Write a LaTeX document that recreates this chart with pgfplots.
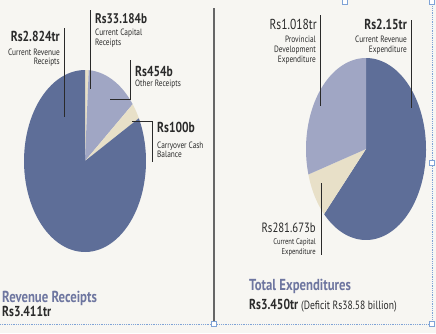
\documentclass[border=0pt]{standalone}
\usepackage{fontspec}
\setmainfont{PT Sans}[FakeStretch=0.8]
\usepackage{pgfplots}
\pgfplotsset{compat=1.18}
\definecolor{bg}{HTML}{F7F6F2}
\definecolor{darkb}{HTML}{5E6E98}
\definecolor{lightb}{HTML}{A0A6C4}
\definecolor{cream}{HTML}{E8E0C8}
\definecolor{ttl}{HTML}{6E76A0}
\definecolor{txt}{HTML}{2A2A2A}
\definecolor{sel}{HTML}{7FA3D6}
\newcommand\wedgeplot[3]{\addplot[fill=#3, draw=none, domain=#2:#1, samples=90, variable=\t] ({cos(t)},{sin(t)}) -- (axis cs:0,0) -- cycle;}
\newcommand\fsz[1]{\fontsize{#1}{#1}\selectfont}
\begin{document}
\begin{tikzpicture}[x=1bp,y=-1bp]
% data (billions of rupees)
\def\LA{2824}\def\LB{33.184}\def\LC{454}\def\LD{100}
\def\RA{2150}\def\RB{281.673}\def\RC{1018}
\pgfmathsetmacro\tL{\LA+\LB+\LC+\LD}
\pgfmathsetmacro\aA{90}
\pgfmathsetmacro\aB{\aA-\LB/\tL*360}
\pgfmathsetmacro\aC{\aB-\LC/\tL*360}
\pgfmathsetmacro\aD{\aC-\LD/\tL*360}
\pgfmathsetmacro\aE{\aD-\LA/\tL*360}
\pgfmathsetmacro\tR{\RA+\RB+\RC}
\pgfmathsetmacro\bA{90}
\pgfmathsetmacro\bB{\bA-\RA/\tR*360}
\pgfmathsetmacro\bC{\bB-\RB/\tR*360}
\pgfmathsetmacro\bD{\bC-\RC/\tR*360}
\fill[bg] (0,0) rectangle (436,333);
% left pie
\begin{axis}[at={(85bp,-161bp)}, anchor=center, width=122bp, height=182bp, scale only axis, hide axis, xmin=-1, xmax=1, ymin=-1, ymax=1, clip=false]
\wedgeplot{\aA}{\aB}{cream}
\wedgeplot{\aB}{\aC}{lightb}
\wedgeplot{\aC}{\aD}{cream}
\wedgeplot{\aD}{\aE}{darkb}
\end{axis}
% right pie
\begin{axis}[at={(366bp,-149bp)}, anchor=center, width=120bp, height=182bp, scale only axis, hide axis, xmin=-1, xmax=1, ymin=-1, ymax=1, clip=false]
\wedgeplot{\bA}{\bB}{darkb}
\wedgeplot{\bB}{\bC}{cream}
\wedgeplot{\bC}{\bD}{lightb}
\end{axis}
% divider
\draw[line width=1.4bp, gray!80!black] (214,8) -- (214,322);
% leader lines
\begin{scope}[line width=0.9bp, txt]
\draw (64,28) -- (64,117);
\draw (90,10) -- (90,89);
\draw (110,99) -- (130,99) -- (130,60);
\draw (132,121) -- (152,121) -- (152,162);
\draw (320,15) -- (320,106);
\draw (411,20) -- (411,108);
\draw (321,183) -- (321,255);
\end{scope}
% selection frame
\draw[sel, densely dotted, line width=0.8bp] (0,324) -- (432,324) -- (432,0);
\foreach \p in {(214,324),(432,163),(432,324),(432,2),(345,2)}
  \draw[sel, fill=white, line width=0.6bp] \p ++(-2.5,-2.5) rectangle ++(5,5);
\begin{scope}[every node/.style={inner sep=0pt, text=txt}]
% left labels
\node[anchor=base east, font=\bfseries\fsz{14.5}] at (60,41) {Rs2.824tr};
\node[anchor=base east, font=\fsz{9.2}] at (60,55) {Current Revenue};
\node[anchor=base east, font=\fsz{9.2}] at (60,64) {Receipts};
\node[anchor=base west, font=\bfseries\fsz{14}] at (95,23) {Rs33.184b};
\node[anchor=base west, font=\fsz{9.2}] at (95,35) {Current Capital};
\node[anchor=base west, font=\fsz{9.2}] at (95,45) {Receipts};
\node[anchor=base west, font=\bfseries\fsz{14.5}] at (135,76) {Rs454b};
\node[anchor=base west, font=\fsz{9.2}] at (135,86) {Other Receipts};
\node[anchor=base west, font=\bfseries\fsz{14.5}] at (157,132) {Rs100b};
\node[anchor=base west, font=\fsz{9.2}] at (157,148) {Carryover Cash};
\node[anchor=base west, font=\fsz{9.2}] at (157,157) {Balance};
\node[anchor=base west, font=\bfseries\fsz{16}, text=ttl] at (2,302) {Revenue Receipts};
\node[anchor=base west, font=\bfseries\fsz{14.5}] at (2,316) {Rs3.411tr};
% right labels
\node[anchor=base east, font=\fsz{14.5}] at (317,29) {Rs1.018tr};
\node[anchor=base east, font=\fsz{9.2}] at (316,42) {Provincial};
\node[anchor=base east, font=\fsz{9.2}] at (316,52) {Development};
\node[anchor=base east, font=\fsz{9.2}] at (316,62) {Expenditure};
\node[anchor=base east, font=\bfseries\fsz{14.5}] at (407,29) {Rs2.15tr};
\node[anchor=base east, font=\fsz{9.2}] at (407,42) {Current Revenue};
\node[anchor=base east, font=\fsz{9.2}] at (407,52) {Expenditure};
\node[anchor=base east, font=\fsz{13.5}] at (316,232) {Rs281.673b};
\node[anchor=base east, font=\fsz{8.3}] at (316,244) {Current Capital};
\node[anchor=base east, font=\fsz{8.3}] at (316,254) {Expenditure};
\node[anchor=base west, font=\bfseries\fsz{16}, text=ttl] at (249,290) {Total Expenditures};
\node[anchor=base west] at (249,309) {\bfseries\fsz{14.5}Rs3.450tr \mdseries\fsz{12}(Deficit Rs38.58 billion)};
\end{scope}
\pgfresetboundingbox
\path[use as bounding box] (0,0) rectangle (436,333);
\end{tikzpicture}
\end{document}
